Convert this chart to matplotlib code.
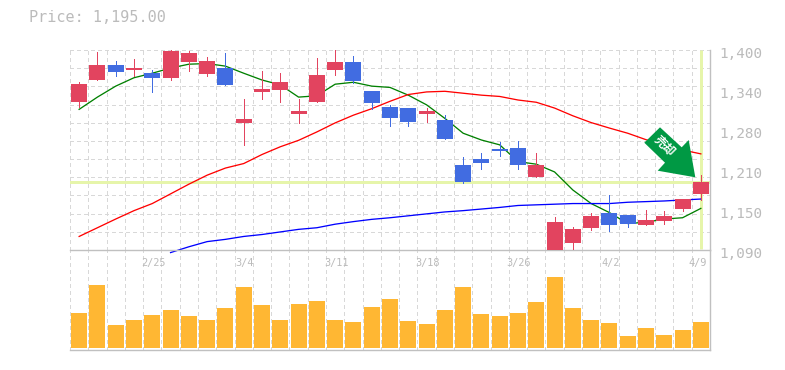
import matplotlib
matplotlib.use("Agg")
import matplotlib.pyplot as plt
from matplotlib.patches import Polygon
from matplotlib.transforms import Affine2D, ScaledTranslation
import numpy as np

title = "Price: 1,195.00"
current_price = 1195

opens = [1319, 1353.5, 1377, 1369, 1364, 1357, 1381, 1363, 1372, 1287, 1335, 1338, 1301, 1319, 1369,
         1381, 1336.5, 1312, 1310, 1301, 1291.5, 1222, 1231, 1246.5, 1248, 1203, 1088.5, 1101, 1124, 1147.5,
         1144, 1129, 1135, 1153.5, 1177]
closes = [1347, 1377, 1366, 1372, 1357, 1398.5, 1395, 1383, 1346, 1293, 1339.5, 1350, 1305.5, 1361, 1381,
          1352, 1318, 1295, 1288.5, 1305.5, 1262, 1195.5, 1225, 1243.5, 1222, 1222, 1133.5, 1122.5, 1143, 1129,
          1130, 1136.5, 1143, 1169, 1195]
highs = [1350, 1397, 1383, 1386, 1369, 1400, 1398.5, 1389, 1395, 1324, 1367.5, 1364, 1324, 1388, 1400,
         1391, 1336.5, 1315, 1310, 1310, 1299, 1234, 1240.5, 1257.5, 1259, 1240.5, 1141, 1125.5, 1147.5, 1175,
         1144, 1152, 1150.5, 1169, 1206]
lows = [1312, 1353.5, 1360, 1360, 1335, 1353.5, 1367.5, 1360, 1346, 1253, 1324, 1319, 1287, 1319, 1361,
        1349, 1308.5, 1282, 1282, 1288.5, 1262, 1194, 1215.5, 1236, 1215.5, 1203, 1088.5, 1088.5, 1121, 1119.5,
        1125.5, 1129, 1130, 1150.5, 1167.5]
ma_short = [1308, 1327, 1344, 1357, 1364, 1372, 1378, 1379, 1375, 1364, 1353.5, 1346, 1327, 1329, 1347,
            1350, 1344, 1342, 1330, 1315, 1294, 1271, 1260.5, 1253, 1227, 1223, 1211, 1183, 1162, 1148,
            1131, 1133, 1138, 1140, 1154.5]
ma_mid = [1111, 1124.5, 1138, 1151, 1162, 1177, 1192, 1206, 1217, 1224, 1238, 1250, 1260, 1273, 1287,
          1299, 1309, 1320.5, 1331, 1335, 1336, 1333, 1330, 1328, 1322.5, 1319, 1310, 1298, 1287.5, 1279,
          1271, 1261, 1253, 1245, 1239]
ma_long = [np.nan, np.nan, np.nan, np.nan, np.nan, 1086, 1095, 1103, 1106.5, 1111, 1114, 1118, 1122, 1124.5, 1130,
           1134, 1137.5, 1140, 1143, 1146, 1149, 1151, 1153.5, 1156, 1159, 1160, 1161, 1162, 1162, 1162,
           1164, 1165, 1166, 1167.5, 1169]
volumes = [105, 189, 69, 84, 99, 114, 96, 84, 120, 183, 129, 84, 132, 141, 84, 78, 123, 147, 81, 72,
           114, 183, 102, 96, 105, 138, 213, 120, 84, 75, 36, 60, 39, 54, 78]
date_positions = [4, 9, 14, 19, 24, 29, 34]
date_labels = ["2/25", "3/4", "3/11", "3/18", "3/26", "4/2", "4/9"]
price_ticks = [1400, 1338, 1276, 1214, 1152, 1090]
price_labels = ["1,400", "1,340", "1,280", "1,210", "1,150", "1,090"]

RED = "#E2445F"
BLUE = "#416CE1"
ORANGE = "#FFB733"
HILITE = "#E6F5AA"
GRID = "#D8D8D8"
AXIS = "#C0C0C0"
TEXT = "#BBBBBB"
MONO = "DejaVu Sans Mono"
PX = 0.72
W, H = 785, 370

fig = plt.figure(figsize=(W / 100, H / 100), dpi=100, facecolor="white")
ax_v = fig.add_axes([70 / W, 1 - 350 / H, 640 / W, 100 / H])
ax_p = fig.add_axes([70 / W, 1 - 250 / H, 640 / W, 200 / H], sharex=ax_v)
ax_p.set_zorder(2)
ax_p.patch.set_alpha(0)

n = len(closes)
x = np.arange(n)
ax_v.set_xlim(-0.5, n - 0.5)
ax_p.set_ylim(1090, 1400)
ax_v.set_ylim(-6, 294)

grid_kw = dict(color=GRID, lw=1.0 * PX, dashes=(3, 3), antialiased=False)
for v in np.arange(-0.5, n, 1):
    ax_v.axvline(v, zorder=0, **grid_kw)
    ax_p.axvline(v, zorder=0, **grid_kw)
for v in np.linspace(1090, 1400, 12)[1:]:
    ax_p.axhline(v, zorder=0, **grid_kw)

ax_p.axhline(current_price, color=HILITE, lw=3 * PX, zorder=1)
ax_p.plot([x[-1], x[-1]], [1092, 1400], color=HILITE, lw=3 * PX, zorder=1, solid_capstyle="butt")

line_kw = dict(lw=1.3 * PX, zorder=2)
ax_p.plot(x, ma_short, color="#008000", **line_kw)
ax_p.plot(x, ma_mid, color="#FF0000", **line_kw)
ax_p.plot(x, ma_long, color="#0000FF", clip_on=False, **line_kw)

colors = [RED if c >= o else BLUE for o, c in zip(opens, closes)]
ax_p.vlines(x, lows, highs, colors=colors, lw=1.0 * PX, zorder=3, antialiased=False)
bottoms = np.minimum(opens, closes)
heights = np.abs(np.array(closes) - np.array(opens))
ax_p.bar(x, heights, bottom=bottoms, width=0.875, color=colors, linewidth=0, zorder=4)
ax_v.bar(x, volumes, width=0.875, color=ORANGE, linewidth=0, zorder=2)

for ax in (ax_p, ax_v):
    for s in ("top", "left"):
        ax.spines[s].set_visible(False)
    for s in ("bottom", "right"):
        ax.spines[s].set_color(AXIS)
        ax.spines[s].set_linewidth(1.4 * PX)

ax_p.tick_params(axis="x", which="both", bottom=False, labelbottom=False)
ax_p.set_yticks(price_ticks)
ax_p.set_yticklabels(price_labels, family=MONO, fontsize=10.4, color=TEXT)
ax_p.yaxis.tick_right()
ax_p.tick_params(axis="y", length=0, pad=7)
ylab_off = ScaledTranslation(0, -3 / 100, fig.dpi_scale_trans)
for lab in ax_p.get_yticklabels():
    lab.set_transform(lab.get_transform() + ylab_off)

ax_v.set_yticks([])
ax_v.set_xticks(date_positions)
ax_v.set_xticklabels(date_labels, family=MONO, fontsize=7.4, color=TEXT)
ax_v.xaxis.tick_top()
ax_v.tick_params(axis="x", length=0, pad=-12.7)
for lab, pos in zip(ax_v.get_xticklabels(), date_positions):
    dx = -3 if pos == n - 1 else 1
    lab.set_transform(lab.get_transform() + ScaledTranslation(dx / 100, 0, fig.dpi_scale_trans))

fig.text(29 / W, 1 - 18 / H, title, family=MONO, fontsize=10.9, color=TEXT, ha="left", va="center")

# sell-signal arrow, in figure pixels
px = Affine2D().scale(1, -1).translate(0, H)
arrow = [(660, 127.3), (681.7, 147.3), (688.7, 140), (695.3, 177.3), (657.7, 170.7), (665, 162.7), (644.3, 142.7)]
fig.add_artist(Polygon(arrow, closed=True, facecolor="#009944", edgecolor="none", transform=px, zorder=10))
fig.text(664 / W, 1 - 146 / H, "売却", family=["Noto Sans CJK JP", "DejaVu Sans"], fontsize=8.5, fontweight="bold",
         color="white", rotation=-45, ha="center", va="center", rotation_mode="anchor", zorder=11)

fig.savefig("out.png", dpi=100, facecolor="white")
